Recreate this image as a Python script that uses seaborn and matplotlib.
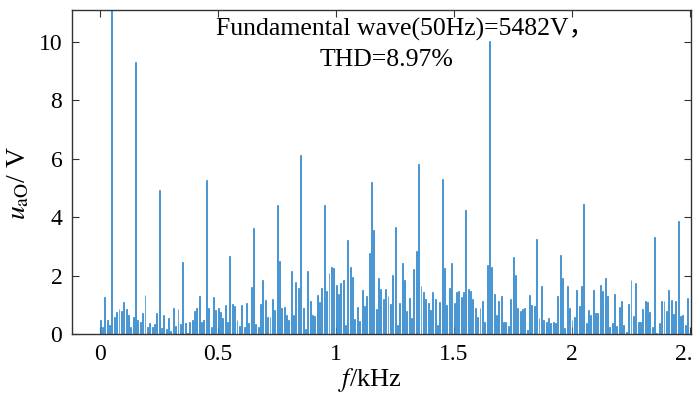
import numpy as np
import pandas as pd
import matplotlib
matplotlib.use('Agg')
import matplotlib.pyplot as plt
import seaborn as sns

# harmonic spectrum, 10 Hz resolution (fundamental 50 Hz clipped at top)
amp = [
    0.48, 0.25, 1.28, 0.5, 0.31, 12.0, 0.57, 0.75, 0.86, 0.79,
    1.1, 0.86, 0.67, 0.24, 0.6, 9.3, 0.48, 0.42, 0.72, 1.34,
    0.24, 0.39, 0.25, 0.33, 0.72, 4.95, 0.22, 0.67, 0.16, 0.56,
    0.1, 0.91, 0.27, 0.86, 0.34, 2.47, 0.37, 0.05, 0.43, 0.48,
    0.79, 0.91, 1.32, 0.41, 0.5, 5.27, 0.89, 0.25, 1.26, 0.81,
    0.9, 0.75, 0.55, 1.0, 0.41, 2.69, 1.03, 0.95, 0.5, 0.27,
    0.98, 0.26, 1.08, 0.38, 1.61, 3.63, 0.34, 0.24, 1.03, 1.84,
    1.16, 0.57, 0.57, 1.21, 0.83, 4.41, 2.5, 0.88, 0.94, 0.64,
    0.47, 2.16, 0.67, 1.78, 1.58, 6.12, 0.91, 0.16, 2.16, 1.15,
    0.66, 0.62, 1.35, 1.1, 1.59, 4.41, 1.47, 2.09, 2.31, 2.26,
    1.67, 1.37, 1.75, 1.85, 0.31, 3.21, 2.29, 1.94, 0.51, 0.94,
    0.45, 1.51, 0.97, 1.3, 2.76, 5.21, 3.56, 0.86, 1.92, 1.55,
    1.21, 1.54, 1.32, 1.02, 2.01, 3.66, 0.3, 1.05, 2.44, 1.86,
    0.79, 1.23, 0.56, 2.24, 2.84, 5.82, 1.66, 1.44, 1.21, 1.08,
    0.82, 1.43, 1.19, 0.31, 1.1, 5.3, 2.26, 0.99, 1.58, 2.43,
    1.06, 1.43, 1.46, 1.28, 1.44, 4.24, 1.55, 1.47, 1.2, 0.89,
    0.58, 0.9, 1.15, 0.42, 2.36, 10.05, 2.29, 1.38, 0.65, 1.15,
    1.32, 0.42, 0.43, 0.27, 1.19, 2.64, 2.02, 0.89, 0.79, 0.86,
    0.88, 0.14, 1.35, 0.99, 0.96, 3.25, 0.56, 1.64, 0.48, 0.42,
    0.56, 0.39, 0.42, 0.39, 1.3, 2.72, 1.92, 0.21, 1.63, 0.89,
    0.5, 0.57, 1.51, 0.95, 1.63, 4.45, 0.39, 0.84, 0.65, 1.51,
    0.72, 0.72, 1.68, 1.46, 1.93, 1.31, 0.25, 0.39, 1.39, 0.27,
    0.92, 1.12, 0.31, 0.07, 1.03, 1.85, 0.62, 1.74, 0.42, 0.41,
    0.86, 1.12, 1.1, 0.76, 0.24, 3.31, 0.05, 0.37, 1.12, 1.15,
    0.78, 1.51, 1.16, 0.7, 1.14, 3.87, 0.62, 0.67, 0.31, 1.22,
]
freq_khz = np.round(np.arange(len(amp)) * 0.01, 2)

xticks = [0, 0.5, 1, 1.5, 2, 2.5]
xticklabels = ['0', '0.5', '1', '1.5', '2', '2.5']
yticks = [0, 2, 4, 6, 8, 10]

note1 = 'Fundamental wave(50Hz)=5482V，'
note2 = 'THD=8.97%'

sns.set_style('ticks')
plt.rcParams['font.family'] = ['Liberation Serif', 'Noto Sans CJK SC']
plt.rcParams['mathtext.fontset'] = 'stix'

df = pd.DataFrame({'f': freq_khz, 'u': amp})
bar_col = '#2a85cc'

fig = plt.figure(figsize=(6.93, 3.94), dpi=100)
ax = fig.add_axes([0.104, 0.152, 0.893, 0.823])

sns.barplot(data=df, x='f', y='u', native_scale=True, width=0.4,
            color=bar_col, saturation=1, errorbar=None,
            edgecolor=bar_col, linewidth=0.5, ax=ax)

ax.set_xlim(-0.119, 2.504)
ax.set_ylim(0, 11.1)
ax.set_xticks(xticks)
ax.set_xticklabels(xticklabels)
ax.set_yticks(yticks)
ax.tick_params(direction='in', length=5, width=0.8, top=True, right=True,
               labelsize=17, colors='#333333', labelcolor='black', pad=7)
for sp in ax.spines.values():
    sp.set_color('#333333')
    sp.set_linewidth(1.0)

ax.set_xlabel('$f$/kHz', fontsize=19, color='black')
ax.set_ylabel(r'$u_{\rm aO}$/ V', fontsize=20, color='black')
ax.xaxis.set_label_coords(0.481, -0.098)
ax.yaxis.set_label_coords(-0.066, 0.466)

fig.text(0.585, 0.924, note1, ha='center', va='center', fontsize=18.5, color='black')
fig.text(0.557, 0.848, note2, ha='center', va='center', fontsize=18.5, color='black')

fig.savefig('out.png', dpi=100)
